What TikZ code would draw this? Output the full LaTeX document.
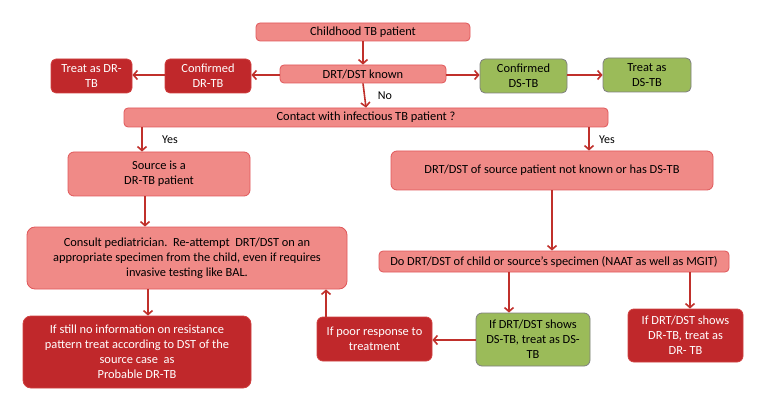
\documentclass[tikz,border=0pt]{standalone}
\usepackage{fontspec}
\setmainfont{Carlito}
\usetikzlibrary{arrows.meta}
\definecolor{pinkfill}{HTML}{F08A87}
\definecolor{pinkline}{HTML}{E0575A}
\definecolor{darkred}{HTML}{C0282B}
\definecolor{darkline}{HTML}{D0403F}
\definecolor{greenfill}{HTML}{9BBB59}
\definecolor{greenline}{HTML}{7F7F7F}
\definecolor{arrowred}{HTML}{C0302B}
\tikzset{
  box/.style={rounded corners=4pt, line width=0.8pt, align=center, inner sep=1pt,
    font=\fontsize{12.4}{15}\selectfont},
  pinkbox/.style={box, fill=pinkfill, draw=pinkline, text=black},
  redbox/.style={box, fill=darkred, draw=darkline, text=white},
  greenbox/.style={box, fill=greenfill, draw=greenline, text=black},
  arr/.style={draw=arrowred, line width=1.6pt, -{Straight Barb[length=4pt,width=9pt,line width=1.6pt]}},
  lbl/.style={font=\fontsize{12}{14}\selectfont, text=black}
}
\begin{document}
\begin{tikzpicture}[x=1pt,y=-1pt]
\useasboundingbox (0,0) rectangle (768,406);
\node[pinkbox, minimum width=214pt, minimum height=18pt] (top) at (363,32) {Childhood TB patient};
\node[pinkbox, minimum width=166pt, minimum height=18pt] (known) at (363,74) {DRT/DST known};
\node[redbox, minimum width=86pt, minimum height=34pt, rounded corners=5pt] (cdr) at (208,76) {Confirmed\\DR-TB};
\node[redbox, minimum width=81pt, minimum height=34pt, rounded corners=5pt] (tdr) at (91.5,76) {Treat as DR-\\TB};
\node[greenbox, minimum width=87pt, minimum height=34pt, rounded corners=5pt] (cds) at (523.5,76) {Confirmed\\DS-TB};
\node[greenbox, minimum width=88pt, minimum height=34pt, rounded corners=5pt] (tds) at (647,75) {Treat as\\DS-TB};
\node[pinkbox, minimum width=484pt, minimum height=19pt] (contact) at (366,117.5) {Contact with infectious TB patient ?};
\node[pinkbox, minimum width=182pt, minimum height=44pt, rounded corners=6pt] (source) at (159,174) {Source is a\\DR-TB patient};
\node[pinkbox, minimum width=322pt, minimum height=39pt, rounded corners=6pt] (srcun) at (552,170.5) {DRT/DST of source patient not known or has DS-TB};
\node[pinkbox, minimum width=320pt, minimum height=62pt, rounded corners=8pt] (consult) at (187,258) {Consult pediatrician.\ \ Re-attempt\ \ DRT/DST on an\\appropriate specimen from the child, even if requires\\invasive testing like BAL.};
\node[pinkbox, minimum width=350pt, minimum height=21pt] (dodrt) at (554,261.5) {Do DRT/DST of child or source’s specimen (NAAT as well as MGIT)};
\node[redbox, minimum width=228pt, minimum height=72pt, rounded corners=8pt] (still) at (137,352) {If still no information on resistance\\pattern treat according to DST of the\\source case\ \ as\\Probable DR-TB};
\node[redbox, minimum width=115pt, minimum height=44pt, rounded corners=6pt] (poor) at (374.5,339) {If poor response to\\treatment};
\node[greenbox, minimum width=114pt, minimum height=53pt, rounded corners=6pt] (gds) at (533,339.5) {If DRT/DST shows\\DS-TB, treat as DS-\\TB};
\node[redbox, minimum width=115pt, minimum height=53pt, rounded corners=6pt] (gdr) at (685.5,335.5) {If DRT/DST shows\\DR-TB, treat as\\DR- TB};
\coordinate (xa) at (142,0);
\coordinate (xb) at (589,0);
\coordinate (xc) at (145,0);
\coordinate (xd) at (148,0);
\coordinate (xe) at (326,0);
\coordinate (xf) at (509,0);
\coordinate (xg) at (690,0);
\coordinate (ya) at (0,75);
\coordinate (yb) at (0,340);
\draw[arr] (top.south) -- (known.north);
\draw[arr] (known.west |- ya) -- (cdr.east |- ya);
\draw[arr] (cdr.west |- ya) -- (tdr.east |- ya);
\draw[arr] (known.east |- ya) -- (cds.west |- ya);
\draw[arr] (cds.east |- ya) -- (tds.west |- ya);
\draw[arr] (known.south) -- (contact.north);
\draw[arr] (contact.south -| xa) -- (source.north -| xa);
\draw[arr] (contact.south -| xb) -- (srcun.north -| xb);
\draw[arr] (source.south -| xc) -- (consult.north -| xc);
\draw[arr] (srcun.south) -- (dodrt.north -| srcun.south);
\draw[arr] (consult.south -| xd) -- (still.north -| xd);
\draw[arr] (poor.north -| xe) -- (consult.south -| xe);
\draw[arr] (dodrt.south -| xf) -- (gds.north -| xf);
\draw[arr] (dodrt.south -| xg) -- (gdr.north -| xg);
\draw[arr] (gds.west |- yb) -- (poor.east |- yb);
\node[lbl] (no) at (385,96) {No};
\node[lbl] (yes1) at (170,140) {Yes};
\node[lbl] (yes2) at (607,140) {Yes};
\end{tikzpicture}
\end{document}
